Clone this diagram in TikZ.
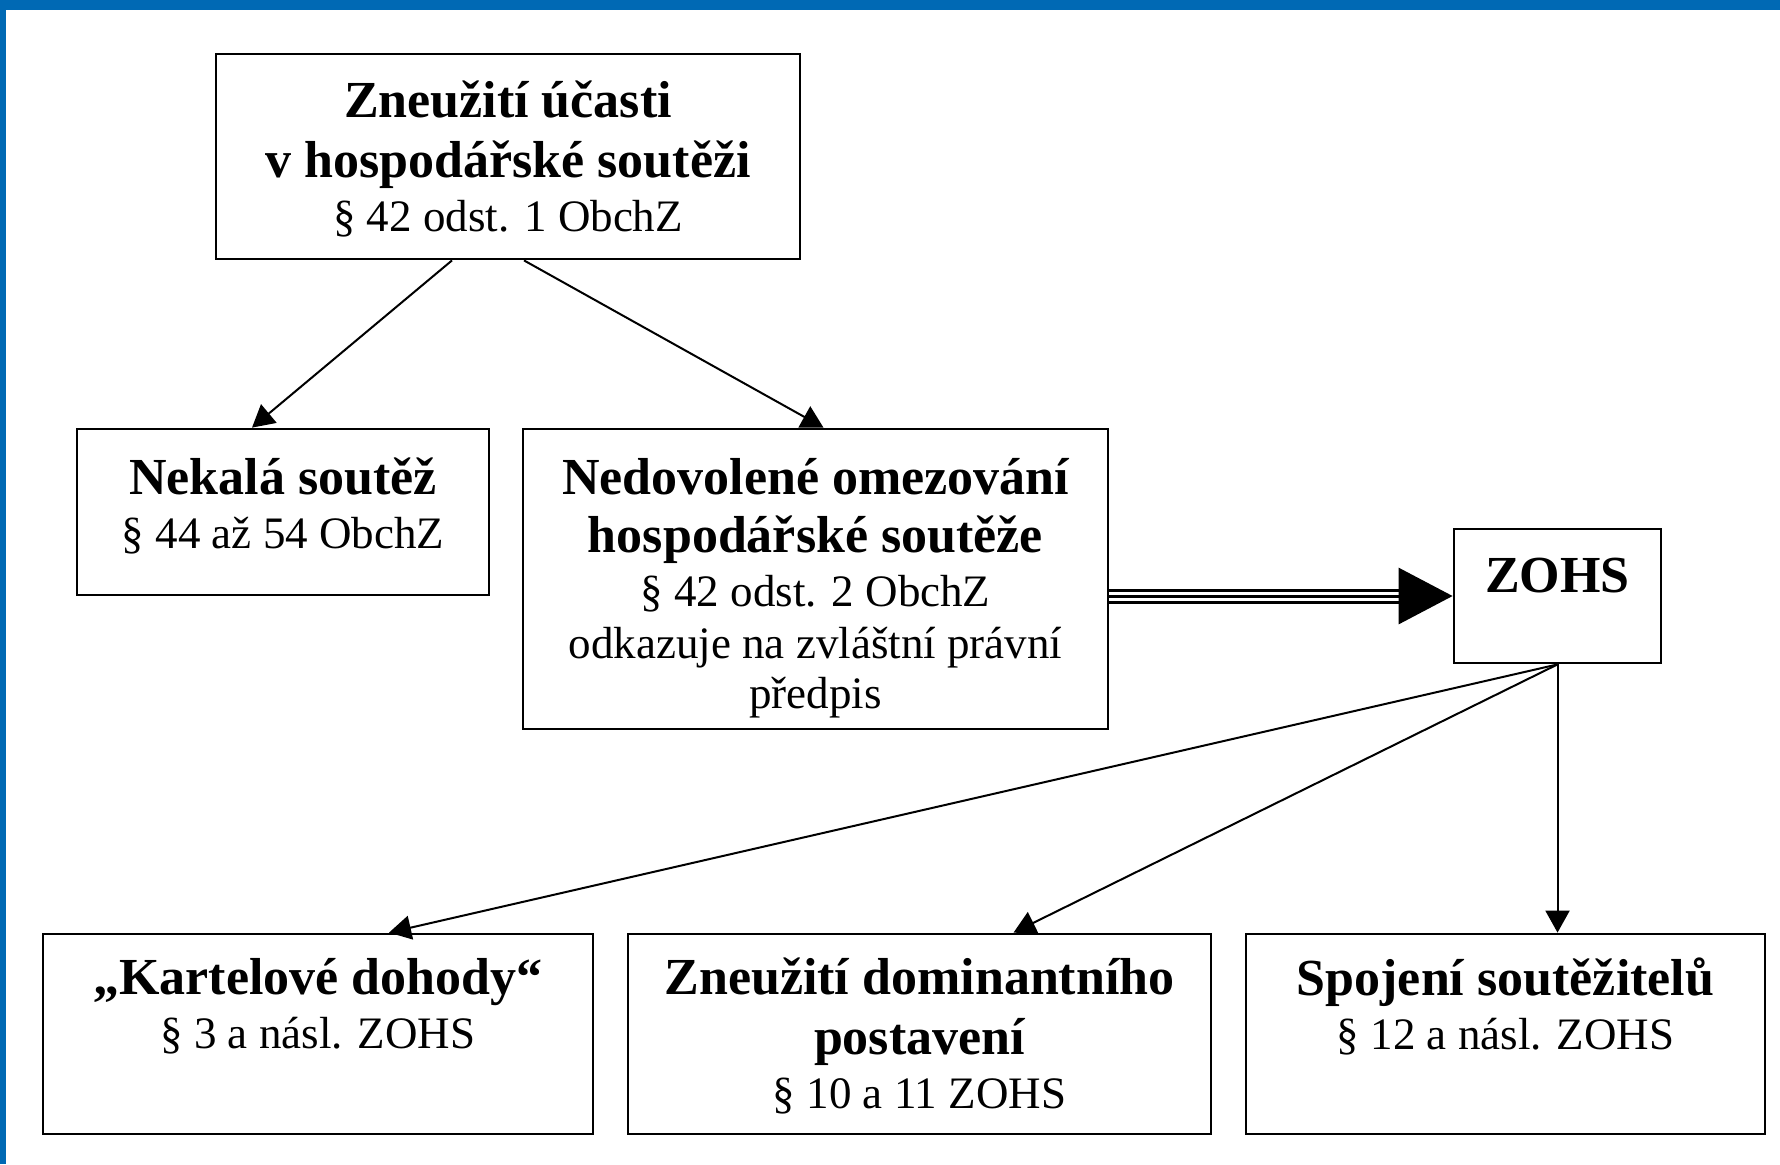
\documentclass[tikz,border=0pt]{standalone}
\usepackage{fontspec}
\setmainfont{Liberation Serif}
\usetikzlibrary{arrows.meta,positioning}
\definecolor{framebar}{HTML}{0069B4}
\newcommand{\hd}[1]{{\fontsize{26pt}{28pt}\selectfont\bfseries #1}}

\begin{document}
\begin{tikzpicture}[x=0.5pt, y=-0.5pt,
    box/.style={draw, line width=1.4pt, inner sep=0pt},
    txt/.style={inner sep=0pt, align=center,
        font=\fontsize{22.5pt}{25pt}\selectfont,
        execute at begin node={\rule{0pt}{26pt}}},
    link/.style={line width=1pt, -{Triangle[length=11pt, width=12pt]}}]
    \useasboundingbox (0,0) rectangle (1780,1164);
    \fill[framebar] (0,0) rectangle (1780,10);
    \fill[framebar] (0,0) rectangle (6,1164);

    \node[box, minimum width=292pt, minimum height=102.5pt] (ucast) at (508,156.5) {};
    \node[box, minimum width=206pt, minimum height=83pt] (nekala) at (283,512) {};
    \node[box, minimum width=292.5pt, minimum height=150pt] (omez) at (815.5,579) {};
    \node[box, minimum width=103.5pt, minimum height=67pt] (zohs) at (1557.5,596) {};
    \node[box, minimum width=275pt, minimum height=100pt] (kartel) at (318,1034) {};
    \node[box, minimum width=291.5pt, minimum height=100pt] (domin) at (919.5,1034) {};
    \node[box, minimum width=259.5pt, minimum height=100pt] (spoj) at (1505.5,1034) {};

    \node[txt, below=14pt of ucast.north] (ucast-t)
        {\hd{Zneužití účasti}\\[5pt] \hd{v hospodářské soutěži}\\[2pt] § 42 odst. 1 ObchZ};
    \node[txt, below=15pt of nekala.north] (nekala-t)
        {\hd{Nekalá soutěž}\\[2pt] § 44 až 54 ObchZ};
    \node[txt, below=15pt of omez.north] (omez-t)
        {\hd{Nedovolené omezování}\\[4pt] \hd{hospodářské soutěže}\\[2pt]
         § 42 odst. 2 ObchZ\\[1pt] odkazuje na zvláštní právní\\ předpis};
    \node[txt, below=6pt of zohs.north] (zohs-t) {\hd{ZOHS}};
    \node[txt, below=12.5pt of kartel.north] (kartel-t)
        {\hd{„Kartelové dohody“}\\[2pt] § 3 a násl. ZOHS};
    \node[txt, below=12.5pt of domin.north] (domin-t)
        {\hd{Zneužití dominantního}\\[5pt] \hd{postavení}\\[2pt] § 10 a 11 ZOHS};
    \node[txt, below=12.5pt of spoj.north] (spoj-t)
        {\hd{Spojení soutěžitelů}\\[2pt] § 12 a násl. ZOHS};

    \draw[link] ([xshift=-28pt]ucast.south) -- ([xshift=-15.5pt]nekala.north);
    \draw[link] ([xshift=8pt]ucast.south) -- ([xshift=4pt]omez.north);

    \draw[line width=1.5pt, double distance=4.5pt, shorten >=27pt]
        (omez.east |- zohs.west) -- (zohs.west);
    \draw[line width=1.5pt, -{Triangle[length=27pt, width=28pt]}]
        (omez.east |- zohs.west) -- (zohs.west);

    \draw[link] (zohs.south) -- ([xshift=35.5pt]kartel.north);
    \draw[link] (zohs.south) -- ([xshift=47pt]domin.north);
    \draw[link] (zohs.south) -- (spoj.north -| zohs.south);
\end{tikzpicture}
\end{document}
